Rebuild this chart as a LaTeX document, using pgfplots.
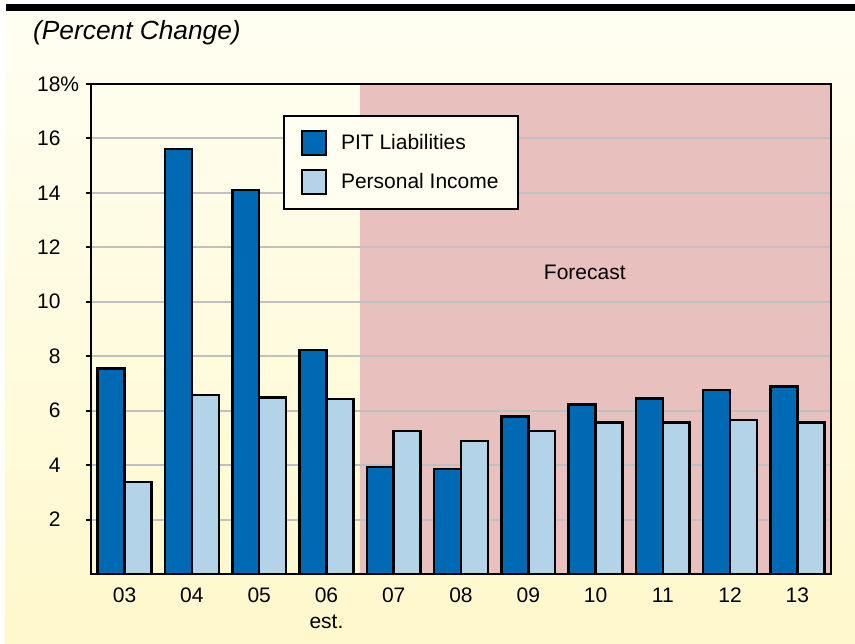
\documentclass[border=0pt]{standalone}
\usepackage{pgfplots}
\pgfplotsset{compat=1.18}
\usepackage{fontspec}
\setmainfont{Liberation Sans}

\definecolor{pitblue}{RGB}{0,105,180}
\definecolor{piblue}{RGB}{179,211,232}
\definecolor{fcpink}{RGB}{232,193,190}
\definecolor{gridgray}{RGB}{192,192,192}
\definecolor{creamtop}{RGB}{255,254,242}
\definecolor{creambot}{RGB}{255,248,204}
\definecolor{legfill}{RGB}{255,254,240}

\begin{document}
\begin{tikzpicture}
% page background
\fill[white] (-91pt,-70pt) rectangle (764pt,574pt);
\shade[top color=creamtop, bottom color=creambot] (-86pt,-70pt) rectangle (764pt,562pt);
\fill[black] (-85pt,563pt) rectangle (764pt,570pt);
\node[anchor=base west, font=\fontsize{26.3}{30}\selectfont\itshape, inner sep=0pt] at (-58pt,534pt) {(Percent Change)};
% forecast region (x = 3.5 .. 10.5 of the axis below)
\fill[fcpink] ({4/11*740pt},0pt) rectangle (740pt,490pt);

\begin{axis}[
  width=740pt, height=490pt,
  scale only axis,
  at={(0,0)}, anchor=south west,
  xmin=-0.5, xmax=10.5,
  ymin=0, ymax=18,
  ybar=0pt, bar width=0.4,
  xtick={0,...,10},
  xticklabels={\strut 03,\strut 04,\strut 05,{\strut 06\\est.},\strut 07,\strut 08,
    \strut 09,\strut 10,\strut 11,\strut 12,\strut 13},
  xticklabel style={align=center, font=\fontsize{21}{26}\selectfont, yshift=-2pt},
  xtick style={draw=none},
  ytick={2,4,...,18},
  yticklabels={2,4,6,8,10,12,14,16,18\rlap{\%}},
  yticklabel style={font=\fontsize{21}{24}\selectfont, xshift=-22pt},
  ytick style={black, line width=2pt},
  ytick pos=left,
  tick align=outside,
  major tick length=5pt,
  ymajorgrids,
  grid style={gridgray, line width=2pt},
  axis line style={black, line width=2.5pt},
  legend style={at={(0.2595,0.9367)}, anchor=north west, fill=legfill,
    draw=black, line width=2pt, font=\fontsize{21}{24}\selectfont,
    inner xsep=17pt, inner ysep=14pt, row sep=13pt,
    cells={anchor=west}},
  legend image code/.code={\draw[#1, line width=2pt] (0pt,-12pt) rectangle (24pt,12pt);},
]
\addplot[fill=pitblue, draw=black, line width=2.5pt] coordinates {
(0,7.55) (1,15.62) (2,14.10) (3,8.23) (4,3.93) (5,3.85)
(6,5.78) (7,6.22) (8,6.45) (9,6.75) (10,6.88)};
\addlegendentry{\hspace{12pt}PIT Liabilities}

\addplot[fill=piblue, draw=black, line width=2.5pt] coordinates {
(0,3.38) (1,6.58) (2,6.48) (3,6.43) (4,5.26) (5,4.88)
(6,5.26) (7,5.57) (8,5.57) (9,5.66) (10,5.57)};
\addlegendentry{\hspace{12pt}Personal Income}

\node[font=\fontsize{21}{24}\selectfont] at (axis cs:6.84,11.07) {Forecast};
\end{axis}
\pgfresetboundingbox
\path (-91pt,-70pt) rectangle (764pt,574pt);
\end{tikzpicture}
\end{document}
